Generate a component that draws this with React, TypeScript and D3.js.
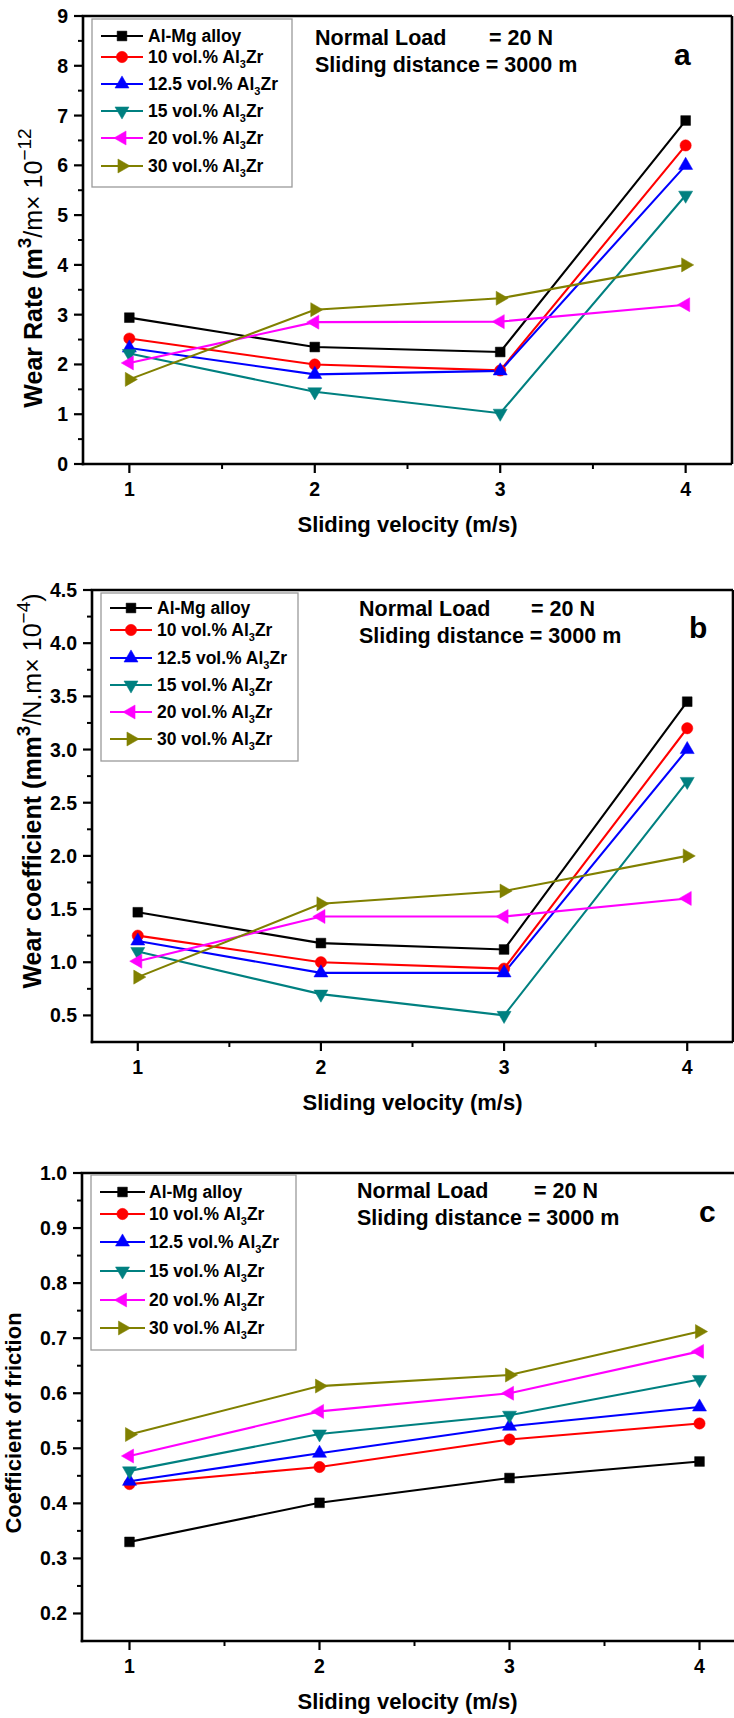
import React from "react";
import * as d3 from "d3";

// ---------- data ----------
const velocities = [1, 2, 3, 4];

const seriesPrefixes = ["Al-Mg alloy", "10 vol.% Al", "12.5 vol.% Al", "15 vol.% Al", "20 vol.% Al", "30 vol.% Al"];
const seriesHasSub = [false, true, true, true, true, true];

// (a) wear rate (m^3/m x 10^-12)
const wrAlMg = [2.94, 2.35, 2.25, 6.9];
const wr10 = [2.52, 2.0, 1.88, 6.4];
const wr125 = [2.33, 1.8, 1.87, 6.0];
const wr15 = [2.22, 1.45, 1.02, 5.4];
const wr20 = [2.03, 2.85, 2.86, 3.2];
const wr30 = [1.7, 3.1, 3.33, 4.0];

// (b) wear coefficient (mm^3/N.m x 10^-4)
const wcAlMg = [1.47, 1.18, 1.12, 3.45];
const wc10 = [1.25, 1.0, 0.94, 3.2];
const wc125 = [1.2, 0.9, 0.9, 3.0];
const wc15 = [1.1, 0.7, 0.5, 2.7];
const wc20 = [1.01, 1.43, 1.43, 1.6];
const wc30 = [0.86, 1.55, 1.67, 2.0];

// (c) coefficient of friction
const cofAlMg = [0.33, 0.401, 0.446, 0.476];
const cof10 = [0.435, 0.466, 0.516, 0.545];
const cof125 = [0.44, 0.491, 0.54, 0.575];
const cof15 = [0.459, 0.526, 0.56, 0.625];
const cof20 = [0.486, 0.567, 0.6, 0.676];
const cof30 = [0.525, 0.613, 0.633, 0.712];

// ticks
const xTicks = [1, 2, 3, 4];
const xMinorTicks = [1.5, 2.5, 3.5];
const wrTicks = [0, 1, 2, 3, 4, 5, 6, 7, 8, 9];
const wrMinor = [0.5, 1.5, 2.5, 3.5, 4.5, 5.5, 6.5, 7.5, 8.5];
const wcTicks = [0.5, 1.0, 1.5, 2.0, 2.5, 3.0, 3.5, 4.0, 4.5];
const wcMinor = [0.75, 1.25, 1.75, 2.25, 2.75, 3.25, 3.75, 4.25];
const cofTicks = [0.2, 0.3, 0.4, 0.5, 0.6, 0.7, 0.8, 0.9, 1.0];
const cofMinor = [0.25, 0.35, 0.45, 0.55, 0.65, 0.75, 0.85, 0.95];

// ---------- styles ----------
const colors = ["#000000", "#ff0000", "#0000ff", "#008080", "#ff00ff", "#808000"];
const markerKinds = ["square", "circle", "up", "down", "left", "right"];
const FONT = "'Liberation Sans', Arial, Helvetica, sans-serif";

function markerPath(kind: string) {
  if (kind === "square") return d3.symbol(d3.symbolSquare, 95)();
  if (kind === "circle") return d3.symbol(d3.symbolCircle, 100)();
  return d3.symbol(d3.symbolTriangle, 85)();
}
function markerRot(kind: string) {
  if (kind === "down") return 180;
  if (kind === "left") return -90;
  if (kind === "right") return 90;
  return 0;
}

function Marker({ kind, x, y, color }: { kind: string; x: number; y: number; color: string }) {
  return (
    <path
      d={markerPath(kind) as string}
      transform={`translate(${x},${y}) rotate(${markerRot(kind)})`}
      fill={color}
      stroke={color}
      strokeWidth={0.5}
    />
  );
}

type PanelProps = {
  series: number[][];
  yDomain: [number, number];
  yTicks: number[];
  yMinor: number[];
  fmt: (v: number) => string;
  left: number;
  right: number;
  top: number;
  bottom: number;
  legend: { x0: number; y0: number; x1: number; y1: number; rows: number[]; lx0: number; lx1: number; tx: number };
  ann: { x: number; x2: number; y1: number; y2: number };
  letter: { ch: string; x: number; y: number; bold: boolean };
  yTitle: React.ReactNode;
  yTitleX: number;
  yTitleY: number;
  yTitleSize: number;
  showRight: boolean;
};

function Panel(p: PanelProps) {
  const x = d3.scaleLinear().domain([0.75, 4.25]).range([p.left, p.right]);
  const y = d3.scaleLinear().domain(p.yDomain).range([p.bottom, p.top]);
  const line = d3
    .line<number>()
    .x((_, i) => x(velocities[i]))
    .y((d) => y(d));
  const frameRight = Math.min(p.right, 734);
  return (
    <g fontFamily={FONT}>
      {p.series.map((s, si) => (
        <path key={"l" + si} d={line(s) as string} fill="none" stroke={colors[si]} strokeWidth={2.1} />
      ))}
      {p.series.map((s, si) =>
        s.map((v, i) => <Marker key={"m" + si + "-" + i} kind={markerKinds[si]} x={x(velocities[i])} y={y(v)} color={colors[si]} />)
      )}
      {/* frame */}
      <line x1={p.left} x2={p.left} y1={p.top} y2={p.bottom + 1.3} stroke="#000" strokeWidth={2.6} />
      <line x1={p.left - 1.3} x2={frameRight} y1={p.bottom} y2={p.bottom} stroke="#000" strokeWidth={2.6} />
      <line x1={p.left - 1.3} x2={frameRight} y1={p.top} y2={p.top} stroke="#000" strokeWidth={2.6} />
      {p.showRight && <line x1={p.right} x2={p.right} y1={p.top} y2={p.bottom} stroke="#000" strokeWidth={2.6} />}
      {/* y ticks */}
      {p.yTicks.map((t) => (
        <g key={"yt" + t}>
          <line x1={p.left - 9} x2={p.left} y1={y(t)} y2={y(t)} stroke="#000" strokeWidth={2.2} />
          <text x={p.left - 15} y={y(t)} dy="0.36em" textAnchor="end" fontSize={19.5} fontWeight="bold">
            {p.fmt(t)}
          </text>
        </g>
      ))}
      {p.yMinor.map((t) => (
        <line key={"ym" + t} x1={p.left - 5} x2={p.left} y1={y(t)} y2={y(t)} stroke="#000" strokeWidth={2} />
      ))}
      {/* x ticks */}
      {xTicks.map((t) => (
        <g key={"xt" + t}>
          <line x1={x(t)} x2={x(t)} y1={p.bottom} y2={p.bottom + 9} stroke="#000" strokeWidth={2.2} />
          <text x={x(t)} y={p.bottom + 32} textAnchor="middle" fontSize={19.5} fontWeight="bold">
            {t}
          </text>
        </g>
      ))}
      {xMinorTicks.map((t) => (
        <line key={"xm" + t} x1={x(t)} x2={x(t)} y1={p.bottom} y2={p.bottom + 5} stroke="#000" strokeWidth={2} />
      ))}
      {/* x title */}
      <text x={(p.left + Math.min(p.right, 733)) / 2} y={p.bottom + 68} textAnchor="middle" fontSize={22} fontWeight="bold">
        Sliding velocity (m/s)
      </text>
      {/* y title */}
      <text
        transform={`translate(${p.yTitleX},${p.yTitleY}) rotate(-90)`}
        textAnchor="middle"
        fontSize={p.yTitleSize}
        fontWeight="bold"
      >
        {p.yTitle}
      </text>
      {/* legend */}
      <rect
        x={p.legend.x0}
        y={p.legend.y0}
        width={p.legend.x1 - p.legend.x0}
        height={p.legend.y1 - p.legend.y0}
        fill="none"
        stroke="#9a9a9a"
        strokeWidth={1.3}
      />
      {p.legend.rows.map((ry, si) => (
        <g key={"lg" + si}>
          <line x1={p.legend.lx0} x2={p.legend.lx1} y1={ry} y2={ry} stroke={colors[si]} strokeWidth={2.1} />
          <Marker kind={markerKinds[si]} x={(p.legend.lx0 + p.legend.lx1) / 2} y={ry} color={colors[si]} />
          <text x={p.legend.tx} y={ry} dy="0.36em" fontSize={17.5} fontWeight="bold">
            {seriesPrefixes[si]}
            {seriesHasSub[si] && (
              <>
                <tspan fontSize={11} dy={5}>3</tspan>
                <tspan dy={-5}>Zr</tspan>
              </>
            )}
          </text>
        </g>
      ))}
      {/* annotations */}
      <text x={p.ann.x} y={p.ann.y1} fontSize={21.5} fontWeight="bold">Normal Load</text>
      <text x={p.ann.x2} y={p.ann.y1} fontSize={21.5} fontWeight="bold">= 20 N</text>
      <text x={p.ann.x} y={p.ann.y2} fontSize={21.5} fontWeight="bold">Sliding distance = 3000 m</text>
      <text x={p.letter.x} y={p.letter.y} fontSize={30} fontWeight={p.letter.bold ? "bold" : "normal"}>
        {p.letter.ch}
      </text>
    </g>
  );
}

export default function App() {
  const wrTitle = (
    <>
      <tspan>Wear Rate (m</tspan>
      <tspan dy={-11} fontSize={19}>3</tspan>
      <tspan dy={11} fontWeight="normal">/m</tspan>
      <tspan fontWeight="normal">× 10</tspan>
      <tspan dy={-11} fontSize={19} fontWeight="normal">−12</tspan>
    </>
  );
  const wcTitle = (
    <>
      <tspan>Wear coefficient (mm</tspan>
      <tspan dy={-11} fontSize={19}>3</tspan>
      <tspan dy={11} fontWeight="normal">/N.m</tspan>
      <tspan fontWeight="normal">× 10</tspan>
      <tspan dy={-11} fontSize={19} fontWeight="normal">−4</tspan>
      <tspan dy={11} fontWeight="normal">)</tspan>
    </>
  );
  const cofTitle = <tspan>Coefficient of friction</tspan>;

  return (
    <svg
      width={734}
      height={1718}
      style={{ position: "absolute", left: 0, top: 0, background: "#fff" }}
      xmlns="http://www.w3.org/2000/svg"
    >
      <rect x={0} y={0} width={734} height={1718} fill="#fff" />
      <Panel
        series={[wrAlMg, wr10, wr125, wr15, wr20, wr30]}
        yDomain={[0, 9]}
        yTicks={wrTicks}
        yMinor={wrMinor}
        fmt={(v) => String(v)}
        left={83}
        right={732}
        top={16}
        bottom={464}
        legend={{ x0: 92, y0: 19, x1: 292, y1: 187, rows: [36, 57, 84, 111, 138, 166], lx0: 101, lx1: 143, tx: 148 }}
        ann={{ x: 315, x2: 489, y1: 45, y2: 72 }}
        letter={{ ch: "a", x: 674, y: 65, bold: true }}
        yTitle={wrTitle}
        yTitleX={42}
        yTitleY={268}
        yTitleSize={25}
        showRight={true}
      />
      <Panel
        series={[wcAlMg, wc10, wc125, wc15, wc20, wc30]}
        yDomain={[0.25, 4.5]}
        yTicks={wcTicks}
        yMinor={wcMinor}
        fmt={(v) => v.toFixed(1)}
        left={92}
        right={733}
        top={590}
        bottom={1042}
        legend={{ x0: 101, y0: 593, x1: 298, y1: 761, rows: [608, 630, 658, 685, 712, 739], lx0: 110, lx1: 152, tx: 157 }}
        ann={{ x: 359, x2: 531, y1: 616, y2: 643 }}
        letter={{ ch: "b", x: 689, y: 638, bold: true }}
        yTitle={wcTitle}
        yTitleX={41}
        yTitleY={791}
        yTitleSize={25}
        showRight={true}
      />
      <Panel
        series={[cofAlMg, cof10, cof125, cof15, cof20, cof30]}
        yDomain={[0.15, 1.0]}
        yTicks={cofTicks}
        yMinor={cofMinor}
        fmt={(v) => v.toFixed(1)}
        left={82}
        right={747}
        top={1173}
        bottom={1641}
        legend={{ x0: 91, y0: 1175, x1: 296, y1: 1350, rows: [1192, 1214, 1242, 1271, 1300, 1328], lx0: 100, lx1: 145, tx: 149 }}
        ann={{ x: 357, x2: 534, y1: 1198, y2: 1225 }}
        letter={{ ch: "c", x: 699, y: 1222, bold: true }}
        yTitle={cofTitle}
        yTitleX={21}
        yTitleY={1423}
        yTitleSize={22}
        showRight={false}
      />
    </svg>
  );
}
